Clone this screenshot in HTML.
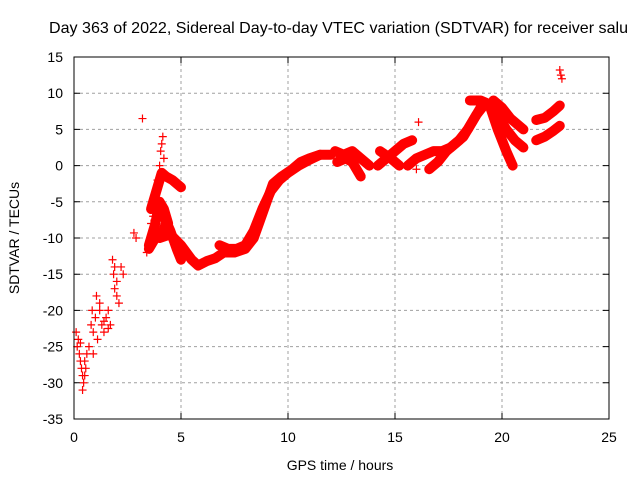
<!DOCTYPE html>
<html><head><meta charset="utf-8"><style>
body{margin:0;background:#fff;}
svg{display:block;font-family:"Liberation Sans",sans-serif;}
</style></head><body>
<svg id="chart" width="640" height="480">
<rect width="640" height="480" fill="#fff"/>
<text x="49" y="33" font-size="16" textLength="579" lengthAdjust="spacingAndGlyphs" fill="#000">Day 363 of 2022, Sidereal Day-to-day VTEC variation (SDTVAR) for receiver salu</text>
<text x="340" y="470" font-size="14" text-anchor="middle">GPS time / hours</text>
<text transform="translate(19,238) rotate(-90)" font-size="14" text-anchor="middle">SDTVAR / TECUs</text>
<g id="grid"></g><g id="ticks"></g><g id="marks"></g>
<rect x="74" y="57" width="535" height="362" fill="none" stroke="#000" stroke-width="1"/>
</svg>
<script>
const xTicks=[0,5,10,15,20,25];
const yTicks=[15,10,5,0,-5,-10,-15,-20,-25,-30,-35];
// dense traces (time hours, value TECU)
const traceA_t=[4.0,4.5,5.0,5.5,5.8,6.2,6.6,7.0,7.5,8.0,8.4,8.7,9.0,9.3,9.7,10.2,10.6,11.0,11.5,12.0];
const traceA_v=[-10,-9.5,-11,-13,-13.8,-13.2,-12.8,-12,-12,-11.5,-10,-7.5,-5,-2.5,-1.5,-0.5,0.5,1,1.5,1.5];
const traceA2_t=[6.8,7.2,7.6,8.0,8.4,8.8,9.2,9.6,10.0,10.5,11.0,11.5];
const traceA2_v=[-11,-11.5,-11.5,-11,-9,-6,-3.5,-2,-1,0,0.8,1.5];
const traceB_t=[3.6,3.9,4.1,4.3,4.6,5.0];
const traceB_v=[-6,-3,-1,-1.5,-2,-3];
const traceB2_t=[3.5,3.8,4.0,4.2,4.4];
const traceB2_v=[-11,-8,-5,-6,-8];
const traceB3_t=[3.5,3.8,4.1,4.3];
const traceB3_v=[-11.5,-10,-9.5,-8];
const traceC_t=[4.2,4.5,4.8,5.0];
const traceC_v=[-7,-9,-11.5,-13];
const traceD_t=[12.2,12.6,13.0,13.4,13.8];
const traceD_v=[2,1.5,2,1,0];
const traceD2_t=[12.3,12.7,13.0,13.4];
const traceD2_v=[0.5,1.0,0.5,-1.5];
const traceE_t=[14.2,14.6,15.0,15.4,15.8];
const traceE_v=[0,1,2,3,3.5];
const traceE2_t=[14.3,14.8,15.2];
const traceE2_v=[2,1,0];
const traceF_t=[15.6,16.0,16.4,16.8,17.2,17.6,18.0,18.4,18.8,19.2];
const traceF_v=[0,1,1.5,2,2,2.5,3.5,5,7,8.5];
const traceG_t=[16.6,17.0,17.4,17.8,18.2,18.6,19.0];
const traceG_v=[-0.5,0.5,2,3,4,6,8];
const traceH_t=[18.5,19.0,19.4,19.8,20.2,20.5];
const traceH_v=[9,9,8.5,5,2,0];
const traceI_t=[19.4,19.8,20.2,20.6,21.0];
const traceI_v=[8.5,7,5,3.5,2.5];
const traceJ_t=[19.6,20.0,20.4,20.8,21.0];
const traceJ_v=[9,8,6.5,5.5,5];
const traceK_t=[21.6,22.0,22.4,22.7];
const traceK_v=[3.5,4,4.8,5.5];
const traceL_t=[21.6,22.0,22.4,22.7];
const traceL_v=[6.3,6.6,7.5,8.3];
// scattered early points
const scat_t=[0.1,0.15,0.2,0.25,0.3,0.35,0.4,0.45,0.5,0.55,0.6,0.7,0.8,0.85,0.9,1.0,1.05,1.1,1.2,1.3,1.4,1.5,1.6,1.7,1.8,1.85,1.9,2.0,2.1,2.2,2.3,2.8,2.9,3.2,3.4,3.6,3.8,3.9,4.0,4.1,4.15,15.9,16.0,16.1,22.7,22.75,22.8,0.3,0.5,0.4,1.4,1.6,2.0,1.9,0.9,1.2,3.7,3.9,4.05,4.2];
const scat_v=[-23,-25,-24,-26,-27,-28,-31,-30,-29,-28,-26,-25,-22,-20,-26,-21,-18,-24,-20,-22,-23,-21,-20,-22,-13,-15,-17,-16,-19,-14,-15,-9.3,-10,6.5,-12,-8,-5,-2,0,3,4,1,-0.5,6,13.2,12.5,12,-24.5,-27,-29,-21.5,-22.5,-18,-14,-23,-19,-7,-3.5,2,1];
const X=t=>74+t*535/25, Y=v=>57+(15-v)*362/50;
const NS="http://www.w3.org/2000/svg";
const grid=document.getElementById('grid'),ticks=document.getElementById('ticks'),marks=document.getElementById('marks');
function mk(tag,attrs,parent){const e=document.createElementNS(NS,tag);for(const k in attrs)e.setAttribute(k,attrs[k]);parent.appendChild(e);return e;}
xTicks.forEach(t=>{const x=X(t);
 if(t>0&&t<25){const g=mk('line',{x1:x,x2:x,y1:57,y2:419,stroke:'#a0a0a0','stroke-dasharray':'3,3'},grid);
 
 }
 const tk=mk('path',{d:`M${x},419v-6M${x},57v6`,stroke:'#000'},ticks);
 
 
 const l=mk('text',{x:x,y:442,'font-size':14,'text-anchor':'middle'},ticks);l.textContent=t;
 
 });
yTicks.forEach(v=>{const y=Y(v);
 if(v<15&&v>-35){const g=mk('line',{x1:74,x2:609,y1:y,y2:y,stroke:'#a0a0a0','stroke-dasharray':'3,3'},grid);
 
 }
 const tk=mk('path',{d:`M74,${y}h6M609,${y}h-6`,stroke:'#000'},ticks);
 
 
 const l=mk('text',{x:63,y:y+5,'font-size':14,'text-anchor':'end'},ticks);l.textContent=v;
 
 });
function plus(t,v,name){const x=X(t),y=Y(v);const p=mk('path',{d:`M${x-4},${y}h8M${x},${y-4}v8`,stroke:'#f00','stroke-width':1.2},marks);
 
 }
const traces=[[traceA_t,traceA_v],[traceA2_t,traceA2_v],[traceB_t,traceB_v],[traceB2_t,traceB2_v],[traceB3_t,traceB3_v],[traceC_t,traceC_v],[traceD_t,traceD_v],[traceD2_t,traceD2_v],[traceE_t,traceE_v],[traceE2_t,traceE2_v],[traceF_t,traceF_v],[traceG_t,traceG_v],[traceH_t,traceH_v],[traceI_t,traceI_v],[traceJ_t,traceJ_v],[traceK_t,traceK_v],[traceL_t,traceL_v]];
traces.forEach(([ts,vs])=>{const pl=mk('polyline',{points:ts.map((t,i)=>X(t)+','+Y(vs[i])).join(' '),fill:'none',stroke:'#f00','stroke-width':10,'stroke-linejoin':'round','stroke-linecap':'round'},marks);
 
 
 ts.forEach((t,i)=>plus(t,vs[i],'sdtvar-point'));});
scat_t.forEach((t,i)=>plus(t,scat_v[i],'sdtvar-point'));
</script>
</body></html>
